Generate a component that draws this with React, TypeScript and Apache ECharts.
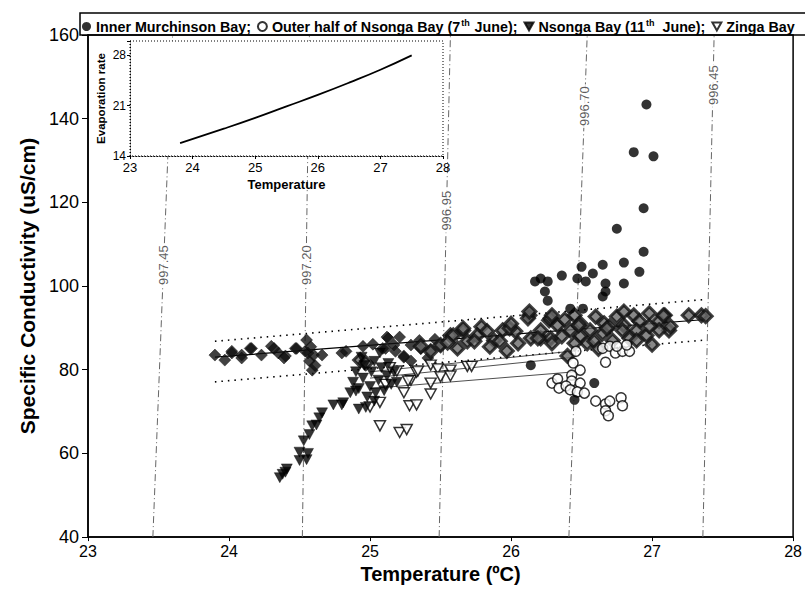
import React, { useEffect, useRef } from "react";
import * as echarts from "echarts";

// ---------- data ----------
const xTicks = [23, 24, 25, 26, 27, 28];
const yTicks = [40, 60, 80, 100, 120, 140, 160];

const innerMurchison: number[][] = [
  [26.17, 101.1], [26.21, 101.8], [26.26, 101.1], [26.24, 98.7], [26.26, 96.5], [26.36, 102.5],
  [26.47, 101.8], [26.53, 101.1], [26.5, 104.6], [26.58, 103.0], [26.65, 105.1], [26.8, 105.6],
  [26.67, 100.6], [26.67, 98.7], [26.65, 97.5], [26.8, 100.6], [26.91, 103.4], [26.94, 108.2],
  [26.75, 113.7], [26.94, 118.6], [26.87, 132.0], [27.01, 131.0], [26.96, 143.4], [26.42, 94.6],
  [26.51, 94.6], [26.14, 81.1], [26.59, 76.8], [26.45, 72.8],
];

const outerNsonga: number[][] = [
  [26.65, 85.1], [26.7, 85.6], [26.74, 84.0], [26.79, 84.4], [26.84, 84.4], [26.82, 85.9],
  [26.75, 85.6], [26.67, 81.8], [26.46, 84.4], [26.44, 81.6], [26.49, 79.9], [26.43, 78.7],
  [26.43, 77.3], [26.49, 76.8], [26.29, 76.8], [26.33, 77.8], [26.34, 75.6], [26.39, 76.1],
  [26.42, 75.2], [26.47, 74.7], [26.52, 74.4], [26.6, 72.5], [26.67, 71.8], [26.7, 72.5],
  [26.78, 73.3], [26.79, 71.4], [26.67, 70.2], [26.69, 69.0],
];

const nsonga11: number[][] = [
  [24.38, 55.0], [24.36, 54.2], [24.41, 56.3], [24.4, 55.5], [24.5, 58.3], [24.55, 58.5],
  [24.5, 60.3], [24.56, 60.0], [24.53, 63.0], [24.57, 64.5], [24.59, 66.6], [24.62, 66.8],
  [24.64, 68.5], [24.66, 69.7], [24.74, 71.6], [24.8, 71.6], [24.92, 70.6], [24.97, 71.0],
  [24.86, 74.5], [24.88, 77.0], [24.9, 79.5], [24.92, 75.5], [24.95, 78.0], [24.96, 81.0],
  [24.98, 73.5], [25.0, 76.0], [25.01, 79.5], [25.03, 82.0], [25.04, 74.5], [25.06, 77.5],
  [25.08, 80.5], [25.1, 75.0], [25.12, 78.5], [25.13, 81.5], [25.15, 76.5], [25.17, 79.5],
  [25.19, 77.0], [25.03, 72.5], [24.94, 83.0], [25.07, 84.0], [24.81, 72.1], [24.9, 74.9],
];

const zinga: number[][] = [
  [25.0, 71.1], [25.07, 66.6], [25.07, 72.2], [25.11, 76.5], [25.19, 79.7], [25.24, 74.5],
  [25.29, 77.5], [25.33, 79.4], [25.43, 81.1], [25.48, 80.2], [25.43, 76.8], [25.43, 74.2],
  [25.5, 78.3], [25.57, 79.9], [25.57, 78.5], [25.69, 80.8], [25.72, 80.8], [25.28, 71.4],
  [25.33, 71.6], [25.21, 65.0], [25.26, 65.7], [25.34, 79.7], [25.27, 77.3], [25.14, 80.5],
];

const diamondsBlack: number[][] = [
  [23.9, 83.5], [23.97, 82.3], [24.02, 84.0], [24.09, 83.5], [24.16, 85.1], [24.23, 83.5],
  [24.3, 85.6], [24.35, 84.0], [24.4, 83.3], [24.48, 85.1], [24.55, 87.1], [24.56, 84.0],
  [24.59, 79.9], [24.57, 82.1], [24.6, 83.5], [24.66, 83.5], [24.8, 84.0], [24.83, 84.4],
  [24.95, 85.6], [25.02, 86.1], [25.12, 87.8], [25.21, 87.8], [25.17, 85.9], [25.29, 85.9],
  [25.36, 85.1], [25.43, 84.7], [25.5, 85.6], [25.24, 83.3], [25.41, 82.8], [24.02, 84.4],
  [24.09, 82.8], [24.15, 85.1], [24.32, 85.1], [24.39, 82.8], [24.47, 85.1], [24.54, 84.4],
  [25.13, 87.5], [25.09, 85.1], [25.24, 83.0], [25.29, 82.1], [25.18, 84.4], [25.11, 85.1],
  [24.61, 81.0], [24.58, 85.5], [25.35, 87.0], [25.46, 87.3],
];

const diamondsGrey: number[][] = [
  [24.93, 82.3], [24.97, 81.6], [25.57, 88.2], [25.66, 89.4], [25.79, 90.3], [25.94, 89.4],
  [26.13, 93.0], [26.27, 91.8], [26.21, 87.5], [26.05, 86.3], [25.88, 87.0], [25.76, 88.2],
  [25.69, 86.8], [25.62, 85.1], [25.5, 85.9], [25.43, 84.4], [25.36, 85.6], [26.03, 89.2],
  [26.14, 87.5], [26.28, 92.3], [26.33, 90.6], [26.45, 93.0], [26.49, 91.1], [26.6, 92.7],
  [26.66, 91.1], [26.75, 92.7], [26.8, 90.6], [26.87, 93.0], [26.91, 91.6], [26.98, 93.5],
  [27.05, 91.6], [27.09, 93.0], [27.12, 89.4], [27.05, 89.4], [26.96, 88.2], [26.89, 89.4],
  [26.84, 87.5], [26.79, 89.4], [26.7, 90.4], [26.65, 88.7], [26.56, 89.4], [26.49, 88.0],
  [26.42, 89.4], [26.36, 88.0], [26.28, 87.5], [26.21, 89.4], [27.26, 93.0], [27.35, 93.0],
  [27.38, 92.8], [26.4, 83.3], [26.54, 86.3], [26.89, 87.0], [26.29, 86.3], [26.45, 86.3],
  [25.59, 88.2], [25.66, 89.9], [25.74, 86.8], [25.83, 89.2], [25.92, 86.8], [25.99, 89.9],
  [26.12, 92.3], [26.19, 87.5], [26.29, 93.0], [26.48, 90.6], [26.59, 86.8], [26.68, 89.9],
  [26.8, 93.9], [26.98, 90.4], [27.08, 93.0], [27.13, 90.4], [26.13, 93.9], [25.85, 85.5],
  [25.97, 84.5], [25.55, 86.5], [26.0, 91.0], [26.38, 92.0], [26.62, 85.0], [26.72, 87.0],
  [27.0, 86.0],
];

// regression line and confidence band of the diamond data
const fitX = [23.9, 27.38];
const fitY = [83.0, 92.0];
const upperY = [86.8, 96.8];
const lowerY = [77.1, 87.1];

// Zinga Bay fit lines
const zingaFitX = [25.0, 26.45];
const zingaFit1 = [79.5, 84.5];
const zingaFit2 = [78.0, 83.0];
const zingaFit3 = [75.5, 79.5];

// density isolines (kg/m3)
const isoLabels = ["997.45", "997.20", "996.95", "996.70", "996.45"];
const isoBottomX = [23.46, 24.52, 25.49, 26.41, 27.36];
const isoTopX = [23.6, 24.57, 25.57, 26.54, 27.44];
const isoLabelY = [105, 105, 118, 143, 148];

// inset: evaporation rate vs temperature
const insetTemp = [23.8, 24.5, 25, 25.5, 26, 26.5, 27, 27.5];
const insetEvap = [15.8, 17.8, 19.3, 20.9, 22.5, 24.2, 26.0, 28.0];

const legendNames: Record<string, string> = {
  inner: "Inner Murchinson Bay;",
  outer: "Outer half of Nsonga Bay (7{sup|th} June);",
  n11: "Nsonga Bay (11{sup2|th} June);",
  zinga: "Zinga Bay",
};

const FONT = "'Liberation Sans', Arial, sans-serif";
const TRI = "path://M0,0L10,0L5,9Z";

export default function App() {
  const ref = useRef<HTMLDivElement>(null);
  useEffect(() => {
    if (!ref.current) return;
    const chart = echarts.init(ref.current, undefined, { renderer: "svg" });

    const isoSeries: any[] = isoLabels.map((lab, i) => ({
      type: "line",
      xAxisIndex: 0,
      yAxisIndex: 0,
      data: [
        [isoBottomX[i], 40],
        [isoTopX[i], 160],
      ],
      showSymbol: false,
      symbol: "none",
      silent: true,
      z: 1,
      lineStyle: { color: "#666", width: 1, type: [7, 3, 1, 3] },
    }));
    const isoLabelSeries = {
      type: "scatter",
      xAxisIndex: 0,
      yAxisIndex: 0,
      symbolSize: 1,
      itemStyle: { color: "rgba(0,0,0,0)" },
      z: 1,
      silent: true,
      data: isoLabels.map((lab, i) => {
        const t = (isoLabelY[i] - 40) / 120;
        const x = isoBottomX[i] + (isoTopX[i] - isoBottomX[i]) * t;
        return { value: [x, isoLabelY[i]], name: lab };
      }),
      label: {
        show: true,
        position: "inside",
        rotate: 90,
        formatter: (p: any) => p.name,
        fontFamily: FONT,
        fontSize: 13,
        color: "#333",
        backgroundColor: "#fff",
        padding: [0, 2],
      },
    };

    const lineSeg = (ys: number[], type: any, width: number) => ({
      type: "line",
      xAxisIndex: 0,
      yAxisIndex: 0,
      data: [
        [fitX[0], ys[0]],
        [fitX[1], ys[1]],
      ],
      symbol: "none",
      silent: true,
      z: 2,
      lineStyle: { color: "#000", width, type },
    });
    const zingaSeg = (ys: number[]) => ({
      type: "line",
      xAxisIndex: 0,
      yAxisIndex: 0,
      data: [
        [zingaFitX[0], ys[0]],
        [zingaFitX[1], ys[1]],
      ],
      symbol: "none",
      silent: true,
      z: 2,
      lineStyle: { color: "#222", width: 0.8 },
    });

    const supStyle = {
      fontFamily: FONT,
      fontWeight: "bold",
      fontSize: 9,
      color: "#000",
      verticalAlign: "top",
    };

    chart.setOption({
      animation: false,
      backgroundColor: "#fff",
      grid: [
        {
          left: 88,
          top: 35,
          right: 8,
          bottom: 49,
          show: true,
          borderColor: "#000",
          borderWidth: 1.5,
          backgroundColor: "transparent",
        },
        {
          left: 130,
          top: 41,
          width: 313,
          height: 115,
          show: true,
          backgroundColor: "#fff",
          borderWidth: 0,
          z: 5,
        },
      ],
      legend: {
        left: 82,
        top: 18,
        width: 1000,
        orient: "horizontal",
        padding: 0,
        itemGap: 6,
        itemWidth: 9,
        itemHeight: 9,
        selectedMode: false,
        data: [
          { name: "inner", icon: "circle" },
          { name: "outer", icon: "circle" },
          { name: "n11", icon: TRI },
          { name: "zinga", icon: TRI },
        ],
        formatter: (n: string) => legendNames[n],
        textStyle: {
          fontFamily: FONT,
          fontWeight: "bold",
          fontSize: 14.3,
          color: "#000",
          rich: {
            sup: { ...supStyle, padding: [0, 1, 8, 1] },
            sup2: { ...supStyle, padding: [0, 4, 8, 1] },
          },
        },
      },
      graphic: [
        {
          type: "rect",
          shape: { x: 80, y: 13, width: 740, height: 22 },
          style: { fill: "none", stroke: "#000", lineWidth: 1.5 },
          z: 20,
          silent: true,
        },
        {
          type: "rect",
          shape: { x: 130, y: 41, width: 313, height: 115 },
          style: { fill: "none", stroke: "#000", lineWidth: 1, lineDash: [1, 2] },
          z: 20,
          silent: true,
        },
      ],
      xAxis: [
        {
          type: "value",
          gridIndex: 0,
          min: 23,
          max: 28,
          interval: 1,
          name: "Temperature (ºC)",
          nameLocation: "middle",
          nameGap: 26,
          nameTextStyle: { fontFamily: FONT, fontWeight: "bold", fontSize: 20, color: "#000" },
          axisLine: { lineStyle: { color: "#000", width: 1.5 } },
          axisTick: { show: true, length: 4, lineStyle: { color: "#000" } },
          axisLabel: {
            fontFamily: FONT,
            fontSize: 16,
            color: "#000",
            margin: 6,
            formatter: (v: number) => (xTicks.includes(v) ? String(v) : ""),
          },
          splitLine: { show: false },
        },
        {
          type: "value",
          gridIndex: 1,
          min: 23,
          max: 28,
          interval: 1,
          z: 10,
          name: "Temperature",
          nameLocation: "middle",
          nameGap: 22,
          nameTextStyle: { fontFamily: FONT, fontWeight: "bold", fontSize: 13, color: "#000" },
          axisLine: { lineStyle: { color: "#000", width: 1, type: [1, 2] } },
          axisTick: { show: true, length: 3, lineStyle: { color: "#000" } },
          axisLabel: { fontFamily: FONT, fontSize: 13, color: "#000", margin: 5 },
          splitLine: { show: false },
        },
      ],
      yAxis: [
        {
          type: "value",
          gridIndex: 0,
          min: 40,
          max: 160,
          interval: 20,
          name: "Specific Conductivity (uS/cm)",
          nameLocation: "middle",
          nameGap: 48,
          nameTextStyle: { fontFamily: FONT, fontWeight: "bold", fontSize: 21, color: "#000" },
          axisLine: { lineStyle: { color: "#000", width: 1.5 } },
          axisTick: { show: true, length: 6, lineStyle: { color: "#000" } },
          axisLabel: {
            fontFamily: FONT,
            fontSize: 18,
            color: "#000",
            margin: 9,
            formatter: (v: number) => (yTicks.includes(v) ? String(v) : ""),
          },
          splitLine: { show: false },
        },
        {
          type: "value",
          gridIndex: 1,
          min: 14,
          max: 30,
          interval: 7,
          z: 10,
          name: "Evaporation rate",
          nameLocation: "middle",
          nameGap: 23,
          nameTextStyle: { fontFamily: FONT, fontWeight: "bold", fontSize: 11.5, color: "#000" },
          axisLine: { lineStyle: { color: "#000", width: 1, type: [1, 2] } },
          axisTick: { show: true, length: 3, lineStyle: { color: "#000" } },
          axisLabel: {
            fontFamily: FONT,
            fontSize: 12,
            color: "#000",
            margin: 4,
            formatter: (v: number) => (v === 30 ? "" : String(v)),
          },
          splitLine: { show: false },
        },
      ],
      series: [
        ...isoSeries,
        isoLabelSeries,
        lineSeg(upperY, [1.5, 5], 1.6),
        lineSeg(lowerY, [1.5, 5], 1.6),
        zingaSeg(zingaFit1),
        zingaSeg(zingaFit2),
        zingaSeg(zingaFit3),
        {
          type: "scatter",
          name: "diamondsBlack",
          data: diamondsBlack,
          symbol: "diamond",
          symbolSize: 12,
          z: 3,
          itemStyle: { color: "#111", borderColor: "#000", borderWidth: 0.5 },
        },
        {
          type: "scatter",
          name: "diamondsGrey",
          data: diamondsGrey,
          symbol: "diamond",
          symbolSize: 13,
          z: 3,
          itemStyle: { color: "#6a6a6a", borderColor: "#111", borderWidth: 3 },
        },
        lineSeg(fitY, "solid", 1.2),
        {
          type: "scatter",
          name: "zinga",
          data: zinga,
          symbol: TRI,
          symbolSize: [11, 10],
          z: 4,
          itemStyle: { color: "#fff", borderColor: "#000", borderWidth: 1.5 },
        },
        {
          type: "scatter",
          name: "n11",
          data: nsonga11,
          symbol: TRI,
          symbolSize: [11, 10],
          z: 4,
          itemStyle: { color: "#000", borderColor: "#000", borderWidth: 0.5 },
        },
        {
          type: "scatter",
          name: "outer",
          data: outerNsonga,
          symbol: "circle",
          symbolSize: 10,
          z: 4,
          itemStyle: { color: "#fff", borderColor: "#000", borderWidth: 1.5 },
        },
        {
          type: "scatter",
          name: "inner",
          data: innerMurchison,
          symbol: "circle",
          symbolSize: 10,
          z: 4,
          itemStyle: { color: "#000" },
        },
        {
          type: "line",
          xAxisIndex: 1,
          yAxisIndex: 1,
          data: insetTemp.map((t, i) => [t, insetEvap[i]]),
          symbol: "none",
          smooth: true,
          z: 10,
          lineStyle: { color: "#000", width: 1.8 },
        },
      ],
    });
    return () => chart.dispose();
  }, []);

  return (
    <div
      ref={ref}
      style={{ position: "fixed", left: 0, top: 0, width: 805, height: 589, background: "#fff" }}
    />
  );
}
